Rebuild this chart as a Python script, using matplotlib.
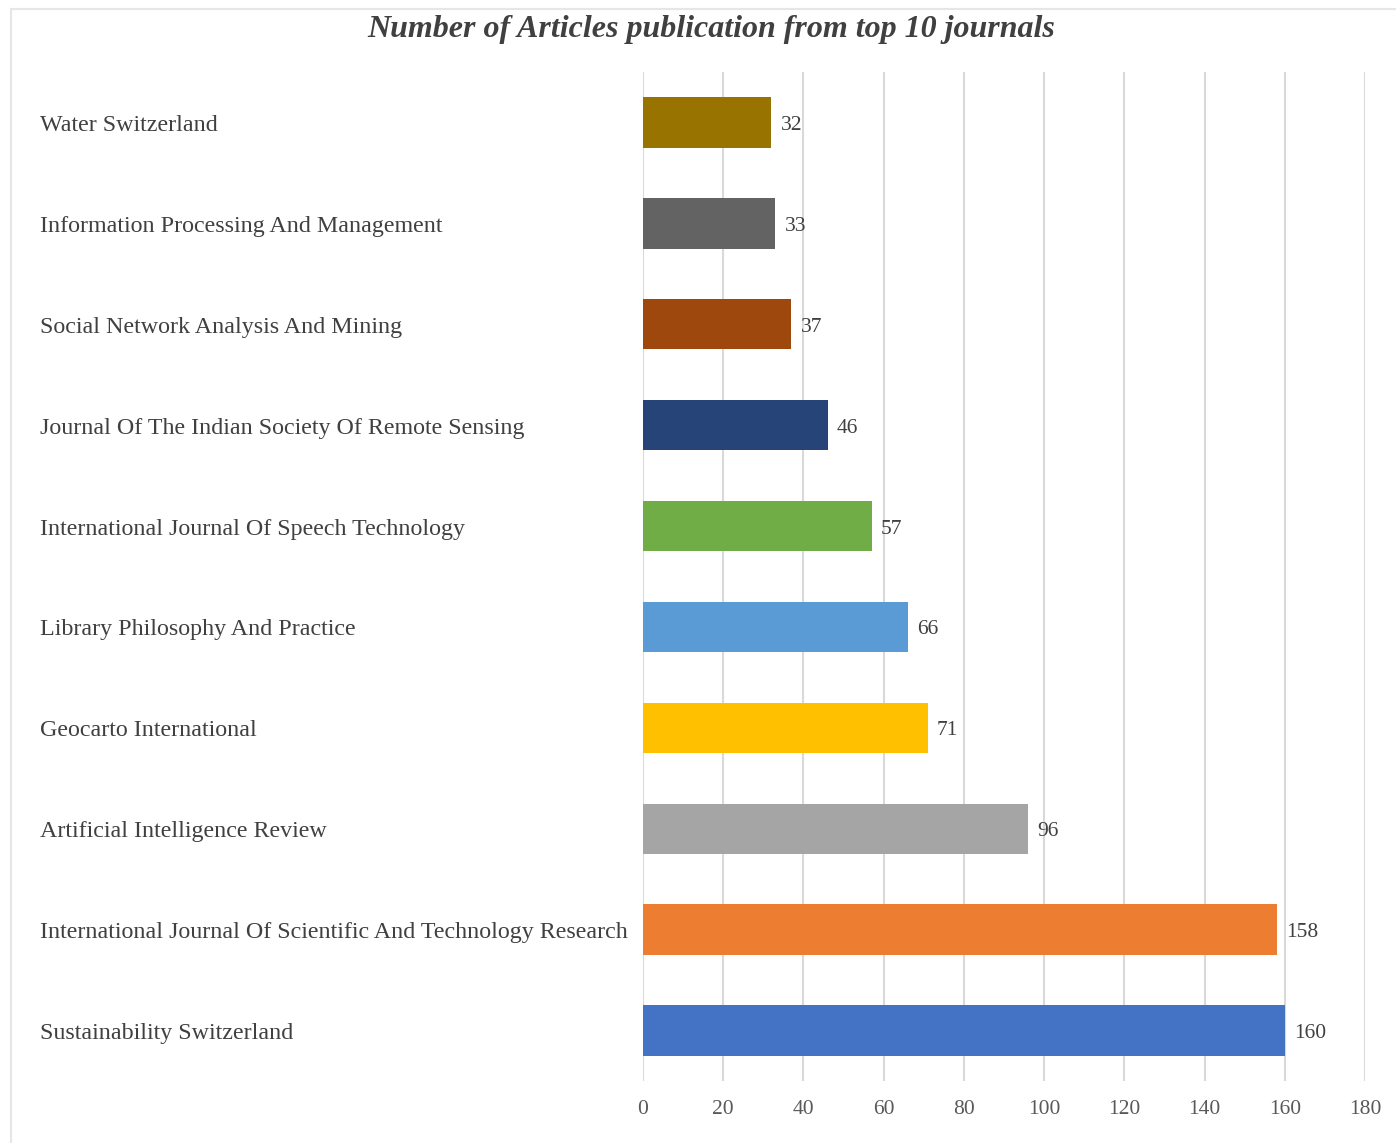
import matplotlib
matplotlib.use("Agg")
import matplotlib.pyplot as plt
import matplotlib.transforms as mtransforms
from matplotlib.patches import Rectangle

journals = [
    "Sustainability Switzerland",
    "International Journal Of Scientific And Technology Research",
    "Artificial Intelligence Review",
    "Geocarto International",
    "Library Philosophy And Practice",
    "International Journal Of Speech Technology",
    "Journal Of The Indian Society Of Remote Sensing",
    "Social Network Analysis And Mining",
    "Information Processing And Management",
    "Water Switzerland",
]
articles = [160, 158, 96, 71, 66, 57, 46, 37, 33, 32]
colors = ["#4472C4", "#ED7D31", "#A5A5A5", "#FFC000", "#5B9BD5",
          "#70AD47", "#264478", "#9E480E", "#636363", "#997300"]
xticks = [0, 20, 40, 60, 80, 100, 120, 140, 160, 180]
title = "Number of Articles publication from top 10 journals"

plt.rcParams['font.family'] = ['Liberation Serif', 'DejaVu Serif']
W, H = 1396, 1143
fig = plt.figure(figsize=(W / 100, H / 100), dpi=100)
fig.patch.set_facecolor("white")

# light frame
fig.add_artist(Rectangle((11 / W, -0.1), 1.2, 1 - 9 / H + 0.1, transform=fig.transFigure,
                         fill=False, edgecolor="#E6E6E6", linewidth=1.5))

ax = fig.add_axes([643 / W, 1 - 1081 / H, (1365 - 643) / W, (1081 - 72) / H])
ypos = list(range(len(journals)))
ax.barh(ypos, articles, height=0.5, color=colors, zorder=3)
ax.set_xlim(0, 180)
ax.set_ylim(-0.5, len(journals) - 0.5)
ax.set_xticks(xticks)
ax.set_xticklabels([str(t) for t in xticks], fontsize=15.5, color="#595959")
ax.set_yticks([])
ax.tick_params(axis="x", length=0, pad=14)
for s in ax.spines.values():
    s.set_visible(False)
ax.grid(axis="x", color="#D9D9D9", linewidth=1.5, zorder=0)

down = mtransforms.ScaledTranslation(0, -3 / 100, fig.dpi_scale_trans)
trans = mtransforms.blended_transform_factory(fig.transFigure, ax.transData) + down
for y, name, v in zip(ypos, journals, articles):
    ax.text(40 / W, y, name, transform=trans, ha="left", va="center",
            fontsize=17.3, color="#404040")
    ax.text(v + 2.3, y, str(v), ha="left", va="center", fontsize=15.5, color="#404040",
            transform=ax.transData + down)

fig.text(711 / W, 1 - 29 / H, title, ha="center", va="center", fontsize=23,
         fontweight="bold", fontstyle="italic", color="#404040")

fig.savefig("out.png", dpi=100, facecolor="white")
